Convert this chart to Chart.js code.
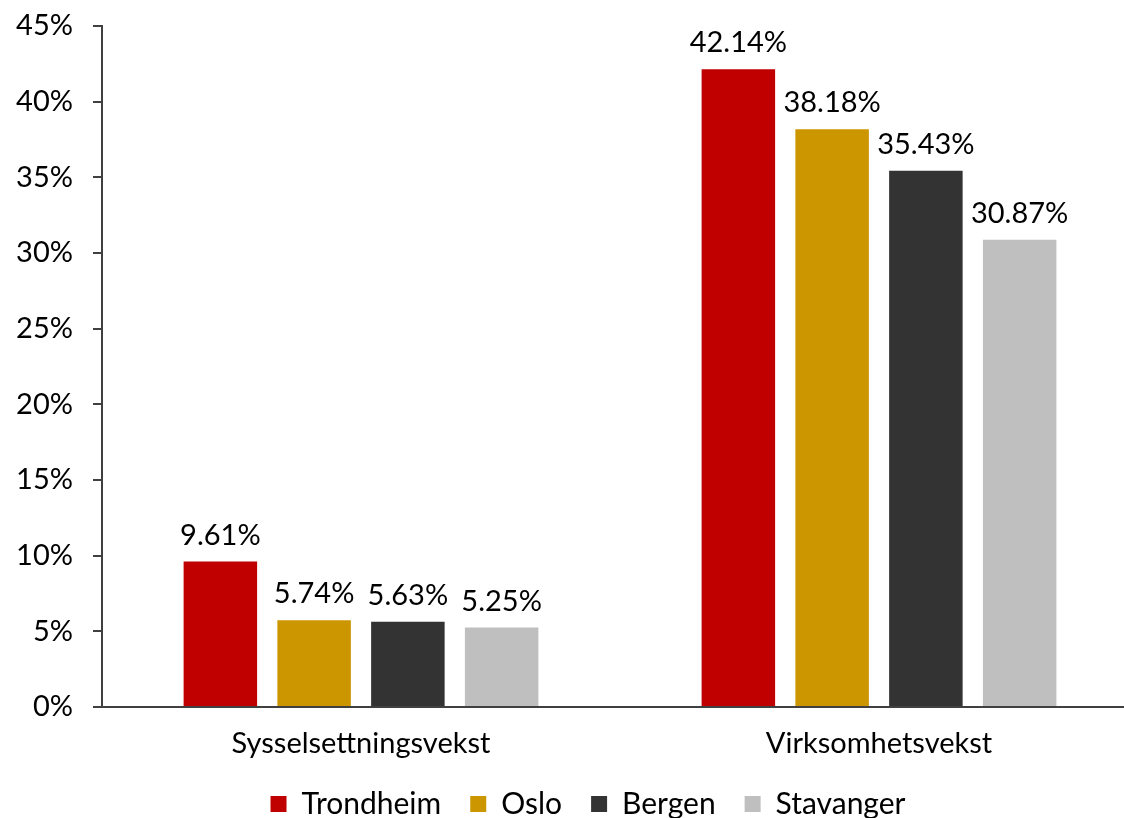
<!DOCTYPE html>
<html>
<head>
<meta charset="utf-8">
<script src="https://cdn.jsdelivr.net/npm/chart.js@4"></script>
<style>
  html, body { margin: 0; padding: 0; background: #ffffff; overflow: hidden; }
  #wrap { width: 1140px; height: 818px; }
</style>
</head>
<body>
<div id="wrap"><canvas id="grafico" width="1140" height="818"></canvas></div>
<script>
// === Dados ===
const kategorier = ["Sysselsettningsvekst", "Virksomhetsvekst"];
const byer = ["Trondheim", "Oslo", "Bergen", "Stavanger"];
const trondheim = [9.61, 42.14];
const oslo = [5.74, 38.18];
const bergen = [5.63, 35.43];
const stavanger = [5.25, 30.87];
const yTicks = [0, 5, 10, 15, 20, 25, 30, 35, 40, 45];

const farger = ["#c00000", "#cc9600", "#333333", "#bfbfbf"];

Chart.defaults.font.family = "Lato";
Chart.defaults.font.size = 29;
Chart.defaults.color = "#000000";

// Etiketter over søylene
const verdiEtiketter = {
    id: "verdiEtiketter",
    afterDatasetsDraw(chart) {
        const ctx = chart.ctx;
        ctx.save();
        ctx.font = "29px Lato";
        ctx.fillStyle = "#000000";
        ctx.textAlign = "center";
        ctx.textBaseline = "alphabetic";
        chart.data.datasets.forEach((ds, i) => {
            chart.getDatasetMeta(i).data.forEach((bar, j) => {
                ctx.fillText(ds.data[j].toFixed(2) + "%", bar.x, bar.y - 17);
            });
        });
        ctx.restore();
    }
};

// Flytter legenden litt til høyre (midt på 588 px)
const legendeFlytt = {
    id: "legendeFlytt",
    afterLayout(chart) {
        const lg = chart.legend;
        const dx = 588 - (lg.left + lg.right) / 2;
        lg.left += dx;
        lg.right += dx;
    }
};

const serier = [trondheim, oslo, bergen, stavanger];

new Chart(document.getElementById("grafico"), {
    type: "bar",
    data: {
        labels: kategorier,
        datasets: serier.map((d, i) => ({
            label: byer[i],
            data: d,
            backgroundColor: farger[i],
            borderWidth: 0,
            categoryPercentage: 0.724,
            barPercentage: 0.784
        }))
    },
    options: {
        responsive: false,
        animation: false,
        layout: { padding: { top: 26, left: 10, right: 2, bottom: -11 } },
        plugins: {
            legend: {
                position: "bottom",
                labels: { boxWidth: 16, boxHeight: 16, padding: 29, color: "#000000", font: { size: 30 } }
            },
            tooltip: { enabled: false }
        },
        scales: {
            x: {
                grid: { display: false, drawTicks: false },
                border: { display: true, color: "#404040", width: 2 },
                ticks: { padding: 19, color: "#000000" },
                afterFit: s => { s.height = 53; }
            },
            y: {
                min: 0,
                max: 45,
                afterBuildTicks: s => { s.ticks = yTicks.map(v => ({ value: v })); },
                grid: { drawOnChartArea: false, drawTicks: true, tickLength: 9, color: "#404040", lineWidth: 2 },
                border: { display: true, color: "#404040", width: 2 },
                ticks: { padding: 20, color: "#000000", callback: v => v + "%" },
                afterFit: s => { s.width = 92; s.paddingTop = 0; s.paddingBottom = 0; }
            }
        }
    },
    plugins: [verdiEtiketter, legendeFlytt]
});
</script>
</body>
</html>
